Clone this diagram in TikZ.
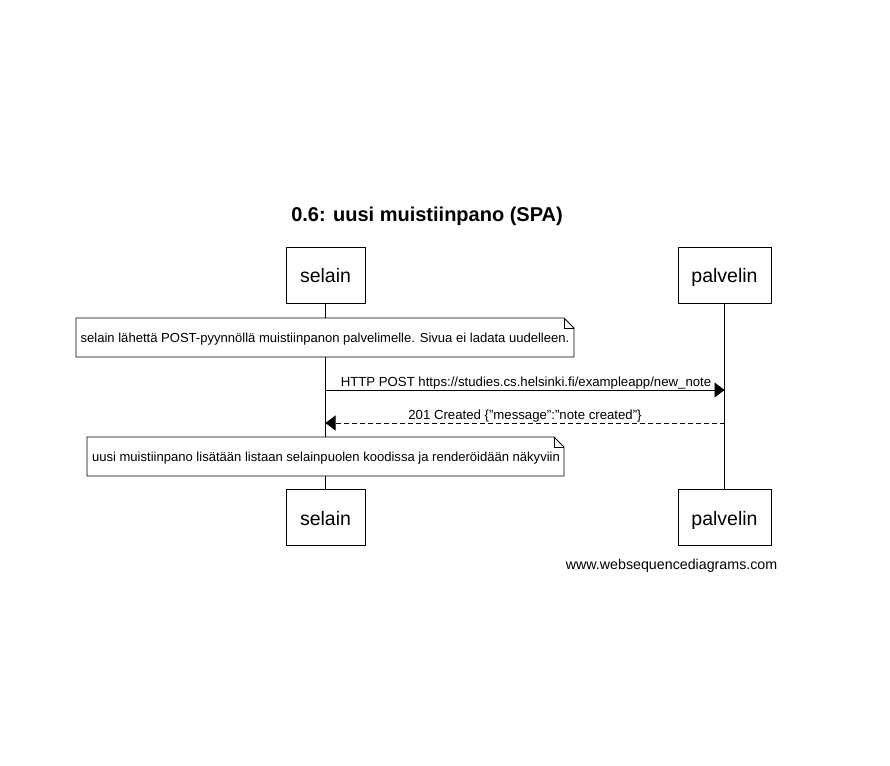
\documentclass[tikz,border=0pt]{standalone}
\usepackage{fontspec}
\setmainfont{Liberation Sans}
\usetikzlibrary{arrows.meta,shapes.misc}
\begin{document}
\begin{tikzpicture}[x=1pt,y=-1pt,
  actor/.style={draw,line width=0.8pt,minimum width=79pt,minimum height=56pt,inner sep=0pt},
  actortext/.style={font=\fontsize{19.5}{22}\selectfont,inner sep=0pt,anchor=base},
  lifeline/.style={line width=0.8pt},
  msg/.style={line width=0.8pt,-{Triangle[length=10pt,width=15pt]}},
  msglabel/.style={font=\fontsize{13.2}{15}\selectfont,inner sep=0pt,anchor=base},
  notetext/.style={font=\fontsize{13.05}{15}\selectfont,inner sep=0pt}
]
\useasboundingbox (0,0) rectangle (890,765);
\fill[white] (0,0) rectangle (890,765);

\node[font=\bfseries\fontsize{20}{24}\selectfont,inner sep=0pt] (title) at (427,216) {0.6: uusi muistiinpano (SPA)};

\node[actor] (s1) at (325.5,275) {};
\node[actor,minimum width=93pt] (p1) at (724.5,275) {};
\node[actor] (s2) at (325.5,517.5) {};
\node[actor,minimum width=93pt] (p2) at (724.5,517.5) {};
\node[actortext] (s1t) at (325.5,282.5) {selain};
\node[actortext] (p1t) at (724.5,282.5) {palvelin};
\node[actortext] (s2t) at (325.5,525) {selain};
\node[actortext] (p2t) at (724.5,525) {palvelin};

\draw[lifeline] (s1.south) -- (s2.north);
\draw[lifeline] (p1.south) -- (p2.north);

% note 1
\draw[line width=0.8pt,fill=white] (76,318) -- (564,318) -- (574,328) -- (574,357) -- (76,357) -- cycle;
\draw[line width=0.6pt] (564,318) -- (564,328) -- (574,328);
\node[notetext] (n1) at (325,339) {selain lähettä POST-pyynnöllä muistiinpanon palvelimelle. Sivua ei ladata uudelleen.};

% messages
\coordinate (a1s) at (325.5,390);
\coordinate (a1e) at (724.5,390);
\draw[msg] (a1s) -- (a1e);
\node[msglabel] (l1) at (526,386) {HTTP POST https://studies.cs.helsinki.fi/exampleapp/new\_note};

\coordinate (a2s) at (724.5,423);
\coordinate (a2e) at (325.5,423);
\draw[msg,dash pattern=on 5pt off 3pt] (a2s) -- (a2e);
\node[msglabel] (l2) at (525,419) {201 Created \{"message":"note created"\}};

% note 2
\draw[line width=0.8pt,fill=white] (87,437) -- (554,437) -- (564,447) -- (564,476) -- (87,476) -- cycle;
\draw[line width=0.6pt] (554,437) -- (554,447) -- (564,447);
\node[notetext] (n2) at (326,458) {uusi muistiinpano lisätään listaan selainpuolen koodissa ja renderöidään näkyviin};

\node[font=\fontsize{14.25}{16}\selectfont,inner sep=0pt,anchor=east] (wsd) at (777.5,565.5) {www.websequencediagrams.com};
\end{tikzpicture}
\end{document}
